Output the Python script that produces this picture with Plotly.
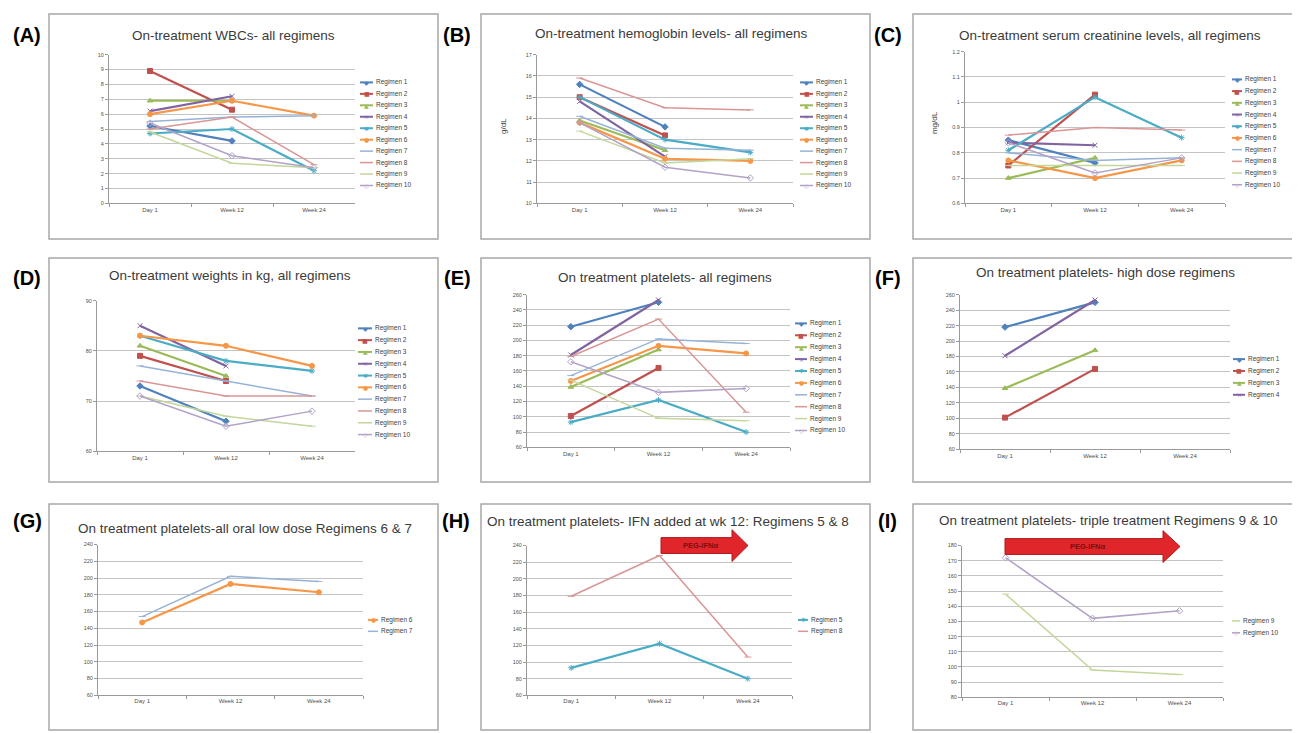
import plotly.graph_objects as go

# the page body adds an 8px margin; the figure fills the rest of the 1300x733 window
OFF = 8
W, H = 1300 - OFF, 733 - OFF

categories = ["Day 1", "Week 12", "Week 24"]
regimens = ["Regimen %d" % i for i in range(1, 11)]
colors = ["#4F81BD", "#C0504D", "#9BBB59", "#8064A2", "#4BACC6",
          "#F79646", "#95B3D7", "#D99694", "#C3D69B", "#B3A2C7"]
symbols = ["diamond", "square", "triangle-up", "x-thin", "asterisk",
           "circle", "line-ew", "line-ew", "line-ew", "diamond-open"]
legend_glyphs = ["◆", "■", "▲", "×", "✱", "●", "", "", "", "◇"]

# values per regimen: [Day 1, Week 12, Week 24]
wbc = [
    [5.2, 4.2, None], [8.9, 6.3, None], [6.9, 6.9, None], [6.2, 7.2, None],
    [4.7, 5.0, 2.2], [6.0, 6.9, 5.9], [5.5, 5.8, 5.9], [5.0, 5.8, 2.6],
    [4.8, 2.7, 2.4], [5.4, 3.2, 2.4],
]
hemoglobin = [
    [15.6, 13.6, None], [15.0, 13.2, None], [13.9, 12.5, None], [14.8, 12.2, None],
    [15.0, 13.0, 12.4], [13.8, 12.1, 12.0], [14.1, 12.6, 12.5], [15.9, 14.5, 14.4],
    [13.4, 11.9, 12.1], [13.8, 11.7, 11.2],
]
creatinine = [
    [0.85, 0.76, None], [0.75, 1.03, None], [0.70, 0.78, None], [0.84, 0.83, None],
    [0.81, 1.02, 0.86], [0.77, 0.70, 0.77], [0.80, 0.77, 0.78], [0.87, 0.90, 0.89],
    [0.75, 0.75, 0.75], [0.84, 0.72, 0.78],
]
weights = [
    [73, 66, None], [79, 74, None], [81, 75, None], [85, 77, None],
    [83, 78, 76], [83, 81, 77], [77, 74, 71], [74, 71, 71],
    [71, 67, 65], [71, 65, 68],
]
platelets = [
    [218, 250, None], [101, 164, None], [139, 188, None], [181, 253, None],
    [93, 122, 80], [147, 193, 183], [154, 202, 196], [179, 228, 106],
    [148, 98, 95], [172, 132, 137],
]

FONT = "Liberation Sans, Arial, sans-serif"


def px(x):
    return (x - OFF) / W


def py(y):
    return 1 - (y - OFF) / H


panels = [
    dict(label="(A)", lab=(27, 32), title="On-treatment WBCs- all regimens", tpos=(233, 33),
         data=wbc, regs=range(10), yr=(0, 10), dt=1, area=(109, 52, 355, 202),
         frame=(49, 11, 438, 238), leg=(360, 80, 11.55, 13), ytitle=None),
    dict(label="(B)", lab=(457, 32), title="On-treatment hemoglobin levels- all regimens", tpos=(671, 31),
         data=hemoglobin, regs=range(10), yr=(10, 17), dt=1, area=(537, 52, 793, 202),
         frame=(481, 11, 870, 238), leg=(800, 80, 11.55, 13), ytitle=("g/dL", 503, 124)),
    dict(label="(C)", lab=(888, 32), title="On-treatment serum creatinine levels, all regimens", tpos=(1110, 33),
         data=creatinine, regs=range(10), yr=(0.6, 1.2), dt=0.1, area=(965, 49, 1225, 202),
         frame=(913, 11, 1299, 238), leg=(1232, 77, 11.8, 10), ytitle=("mg/dL", 934, 120)),
    dict(label="(D)", lab=(27, 277), title="On-treatment weights in kg, all regimens", tpos=(230, 275),
         data=weights, regs=range(10), yr=(60, 90), dt=10, area=(97, 300, 355, 452),
         frame=(49, 257, 438, 483), leg=(358, 328, 11.9, 14), ytitle=None),
    dict(label="(E)", lab=(457, 277), title="On treatment platelets- all regimens", tpos=(665, 277),
         data=platelets, regs=range(10), yr=(60, 260), dt=20, area=(527, 294, 790, 448),
         frame=(481, 257, 870, 483), leg=(795, 323, 12.0, 12), ytitle=None),
    dict(label="(F)", lab=(888, 277), title="On treatment platelets- high dose regimens", tpos=(1105, 272),
         data=platelets, regs=range(4), yr=(60, 260), dt=20, area=(960, 294, 1230, 450),
         frame=(913, 257, 1299, 483), leg=(1233, 359, 12.0, 12), ytitle=None),
    dict(label="(G)", lab=(27, 522), title="On treatment platelets-all oral low dose Regimens 6 & 7", tpos=(245, 530),
         data=platelets, regs=[5, 6], yr=(60, 240), dt=20, area=(98, 546, 363, 698),
         frame=(49, 505, 438, 733), leg=(368, 622, 11.5, 10), ytitle=None),
    dict(label="(H)", lab=(456, 522), title="On treatment platelets- IFN added at wk 12: Regimens 5 & 8", tpos=(668, 523),
         data=platelets, regs=[4, 7], yr=(60, 240), dt=20, area=(527, 547, 792, 698),
         frame=(481, 505, 870, 733), leg=(798, 622, 11.5, 10), ytitle=None),
    dict(label="(I)", lab=(887, 522), title="On treatment platelets- triple treatment Regimens 9 & 10", tpos=(1108, 522),
         data=platelets, regs=[8, 9], yr=(80, 180), dt=10, area=(962, 547, 1223, 700),
         frame=(913, 505, 1299, 733), leg=(1232, 623, 12.0, 8), ytitle=None),
]

fig = go.Figure()
shapes = []
annotations = []
layout_axes = {}

for n, p in enumerate(panels, start=1):
    xa = "x" if n == 1 else "x%d" % n
    ya = "y" if n == 1 else "y%d" % n
    x0, y0, x1, y1 = p["area"]
    layout_axes["xaxis" if n == 1 else "xaxis%d" % n] = dict(
        domain=[px(x0), px(x1)], anchor=ya, type="category",
        range=[-0.5, 2.5], showgrid=False, showline=True, linecolor="#9A9A9A",
        linewidth=1, ticks="outside", tickson="boundaries", ticklen=3,
        tickcolor="#9A9A9A", tickfont=dict(size=6, color="#505050", family=FONT),
        fixedrange=True,
    )
    layout_axes["yaxis" if n == 1 else "yaxis%d" % n] = dict(
        domain=[py(y1), py(y0)], anchor=xa, range=list(p["yr"]), dtick=p["dt"],
        tick0=p["yr"][0], showgrid=True, gridcolor="#C4C4C4", gridwidth=1,
        showline=True, linecolor="#9A9A9A", linewidth=1, ticks="outside",
        ticklen=3, tickcolor="#9A9A9A", zeroline=False,
        tickfont=dict(size=5.5, color="#505050", family=FONT), fixedrange=True,
    )
    for r in p["regs"]:
        thin = r >= 6
        fig.add_trace(go.Scatter(
            x=categories, y=p["data"][r], name=regimens[r], mode="lines+markers",
            line=dict(color=colors[r], width=1.5 if thin else 2.2),
            marker=dict(symbol=symbols[r], size=5, color=colors[r],
                        line=dict(color=colors[r], width=1)),
            xaxis=xa, yaxis=ya, showlegend=False, connectgaps=False,
        ))
    # frame
    fx0, fy0, fx1, fy1 = p["frame"]
    shapes.append(dict(type="rect", xref="paper", yref="paper",
                       x0=px(fx0), x1=px(fx1), y0=py(fy1), y1=py(fy0),
                       line=dict(color="#A8A8A8", width=1.5), layer="below"))
    # panel label
    annotations.append(dict(text="<b>%s</b>" % p["label"], x=px(p["lab"][0]), y=py(p["lab"][1]),
                            xref="paper", yref="paper", showarrow=False,
                            xanchor="center", yanchor="middle",
                            font=dict(size=20, color="black", family=FONT)))
    # title
    annotations.append(dict(text=p["title"], x=px(p["tpos"][0]), y=py(p["tpos"][1]),
                            xref="paper", yref="paper", showarrow=False,
                            xanchor="center", yanchor="middle",
                            font=dict(size=13.5, color="#3A3A3A", family=FONT)))
    # y title
    if p["ytitle"]:
        t, tx, ty = p["ytitle"]
        annotations.append(dict(text=t, x=px(tx), y=py(ty), xref="paper", yref="paper",
                                showarrow=False, textangle=-90, xanchor="center",
                                yanchor="middle", font=dict(size=8, color="#404040", family=FONT)))
    # legend
    lx, ly, step, llen = p["leg"]
    for k, r in enumerate(p["regs"]):
        yy = ly + k * step
        shapes.append(dict(type="line", xref="paper", yref="paper",
                           x0=px(lx), x1=px(lx + llen), y0=py(yy), y1=py(yy),
                           line=dict(color=colors[r], width=1.5 if r >= 6 else 2)))
        if legend_glyphs[r]:
            annotations.append(dict(text=legend_glyphs[r], x=px(lx + llen / 2), y=py(yy),
                                    xref="paper", yref="paper", showarrow=False,
                                    xanchor="center", yanchor="middle",
                                    font=dict(size=6, color=colors[r], family="DejaVu Sans")))
        annotations.append(dict(text=regimens[r], x=px(lx + llen + 1), y=py(yy),
                                xref="paper", yref="paper", showarrow=False,
                                xanchor="left", yanchor="middle",
                                font=dict(size=6.5, color="#404040", family=FONT)))


def arrow(xs, xe, xt, yc, half_body, half_head):
    pts = [(xs, yc - half_body), (xe, yc - half_body), (xe, yc - half_head), (xt, yc),
           (xe, yc + half_head), (xe, yc + half_body), (xs, yc + half_body)]
    path = "M " + " L ".join("%.5f,%.5f" % (px(a), py(b)) for a, b in pts) + " Z"
    shapes.append(dict(type="path", path=path, xref="paper", yref="paper",
                       fillcolor="#E0262A", line=dict(color="#B01C1C", width=1), layer="above"))


arrow(661, 732, 748, 547, 8, 16)
annotations.append(dict(text="<b>PEG-IFNα</b>", x=px(700), y=py(547), xref="paper", yref="paper",
                        showarrow=False, xanchor="center", yanchor="middle",
                        font=dict(size=7.5, color="#7A0E0E", family=FONT)))
arrow(1005, 1163, 1180, 548, 8, 16)
annotations.append(dict(text="<b>PEG-IFNα</b>", x=px(1087), y=py(548), xref="paper", yref="paper",
                        showarrow=False, xanchor="center", yanchor="middle",
                        font=dict(size=7.5, color="#7A0E0E", family=FONT)))

fig.update_layout(
    width=W, height=H, margin=dict(l=0, r=0, t=0, b=0),
    paper_bgcolor="white", plot_bgcolor="white", showlegend=False,
    font=dict(family=FONT), shapes=shapes, annotations=annotations,
    **layout_axes,
)

fig.write_html("out.html")
